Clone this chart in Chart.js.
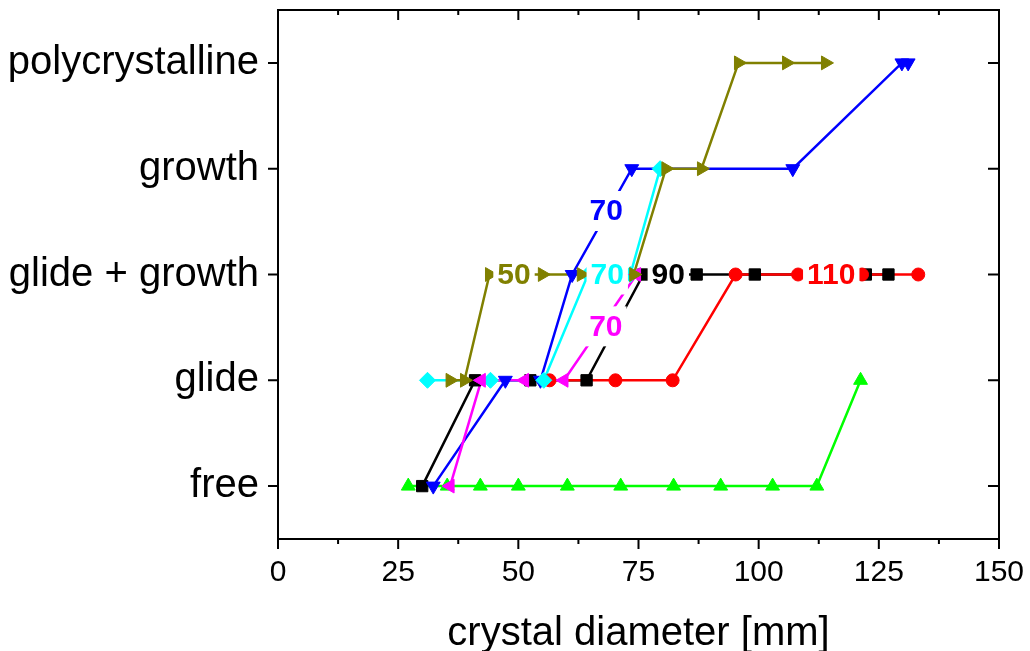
<!DOCTYPE html>
<html>
<head>
<meta charset="utf-8">
<script src="https://cdn.jsdelivr.net/npm/chart.js@4.4.0/dist/chart.umd.min.js"></script>
<style>
    html, body { margin: 0; padding: 0; background: #fff; }
</style>
</head>
<body>
<canvas id="crystalChart" width="1030" height="651"></canvas>
<script>
const FONT = '"Liberation Sans", Arial, sans-serif';

// y categories (bottom to top) and x ticks
const stateNames = ['free', 'glide', 'glide + growth', 'growth', 'polycrystalline'];
const xTickValues = [0, 25, 50, 75, 100, 125, 150];

// series: diameter [mm] and state index
const greenX = [27.1, 35.2, 42.1, 50, 60.2, 71.3, 82.3, 92.1, 102.9, 112.1, 121.2];
const greenY = [0, 0, 0, 0, 0, 0, 0, 0, 0, 0, 1];

const blackX = [30, 41, 52.5, 64.2, 76, 87.1, 99.2, 122.3, 127];
const blackY = [0, 1, 1, 1, 2, 2, 2, 2, 2];

const redX = [56.5, 70.2, 82.1, 95.2, 108.2, 121.5, 133.2];
const redY = [1, 1, 1, 2, 2, 2, 2];

const blueX = [32.3, 47.3, 54.6, 61.2, 73.6, 107.1, 129.8, 131.1];
const blueY = [0, 1, 1, 2, 3, 3, 4, 4];

const cyanX = [31.1, 44.2, 55.3, 64.5, 73.3, 79.5];
const cyanY = [1, 1, 1, 2, 2, 3];

const magentaX = [35.8, 42.3, 51.3, 59.5, 74.6];
const magentaY = [0, 1, 1, 1, 2];

const oliveX = [35.8, 38.8, 44, 55, 63.1, 74, 80.7, 88.1, 95.8, 105.8, 113.9];
const oliveY = [1, 1, 2, 2, 2, 2, 3, 3, 4, 4, 4];

// in-plot numbers
const tagText = ['50', '70', '70', '90', '70', '110'];
const tagX = [49.1, 68.3, 68.5, 81.2, 68.2, 115.1];
const tagY = [2, 2.6, 2, 2, 1.51, 2];
const tagColor = ['#808000', '#0000ff', '#00ffff', '#000000', '#ff00ff', '#ff0000'];

const toPoints = (xs, ys) => xs.map((v, i) => ({ x: v, y: ys[i] }));

// each series -> one line dataset + one marker dataset, so markers sit above all lines
const series = [
    { xs: oliveX, ys: oliveY, color: '#808000', style: 'triangle', rot: 90, r: 8 },
    { xs: magentaX, ys: magentaY, color: '#ff00ff', style: 'triangle', rot: 270, r: 8 },
    { xs: cyanX, ys: cyanY, color: '#00ffff', style: 'rectRot', rot: 0, r: 8 },
    { xs: blueX, ys: blueY, color: '#0000ff', style: 'triangle', rot: 180, r: 8 },
    { xs: redX, ys: redY, color: '#ff0000', style: 'circle', rot: 0, r: 6.5 },
    { xs: blackX, ys: blackY, color: '#000000', style: 'rect', rot: 0, r: 8 },
    { xs: greenX, ys: greenY, color: '#00ff00', style: 'triangle', rot: 0, r: 8 }
];

const markerSets = series.map(s => ({
    data: toPoints(s.xs, s.ys),
    showLine: false,
    pointStyle: s.style,
    rotation: s.rot,
    pointRadius: s.r,
    pointBackgroundColor: s.color,
    pointBorderColor: s.color,
    pointBorderWidth: 1
}));

const lineSets = series.map(s => ({
    data: toPoints(s.xs, s.ys),
    showLine: true,
    borderColor: s.color,
    borderWidth: 2.5,
    tension: 0,
    pointRadius: 0,
    fill: false
}));

const tagPlugin = {
    id: 'tags',
    afterDatasetsDraw(chart) {
        const { ctx, scales: { x, y } } = chart;
        ctx.save();
        ctx.font = 'bold 30px ' + FONT;
        ctx.textAlign = 'center';
        ctx.textBaseline = 'middle';
        tagText.forEach((t, i) => {
            const px = x.getPixelForValue(tagX[i]);
            const py = y.getPixelForValue(tagY[i]);
            const w = ctx.measureText(t).width + 8;
            ctx.fillStyle = '#fff';
            ctx.fillRect(px - w / 2, py - 20, w, 40);
            ctx.fillStyle = tagColor[i];
            ctx.fillText(t, px, py + 1);
        });
        ctx.restore();
    }
};

const framePlugin = {
    id: 'frame',
    afterDraw(chart) {
        const { ctx, chartArea: a, scales: { x, y } } = chart;
        ctx.save();
        ctx.strokeStyle = '#000';
        ctx.lineWidth = 2;
        ctx.strokeRect(a.left, a.top, a.right - a.left, a.bottom - a.top);
        ctx.beginPath();
        for (let v = 0; v <= 150; v += 12.5) {
            const px = x.getPixelForValue(v);
            const major = v % 25 === 0;
            ctx.moveTo(px, a.bottom);
            ctx.lineTo(px, a.bottom + (major ? 10 : 5));
            ctx.moveTo(px, a.top);
            ctx.lineTo(px, a.top + (major ? 10 : 5));
        }
        stateNames.forEach((n, i) => {
            const py = y.getPixelForValue(i);
            ctx.moveTo(a.left - 10, py);
            ctx.lineTo(a.left, py);
            ctx.moveTo(a.right, py);
            ctx.lineTo(a.right - 11, py);
        });
        ctx.stroke();
        ctx.restore();
    }
};

const ctx = document.getElementById('crystalChart').getContext('2d');

new Chart(ctx, {
    type: 'scatter',
    data: { datasets: [...markerSets, ...lineSets] },
    options: {
        responsive: false,
        animation: false,
        layout: { padding: { top: 10, right: 31, left: 0, bottom: 0 } },
        plugins: {
            legend: { display: false },
            tooltip: { enabled: false }
        },
        scales: {
            x: {
                type: 'linear',
                min: 0,
                max: 150,
                afterFit: s => {
                    s.height = 112;
                    s.paddingLeft = 0;
                    s.paddingRight = 0;
                },
                afterBuildTicks: s => { s.ticks = xTickValues.map(v => ({ value: v })); },
                grid: { display: false },
                border: { display: false },
                ticks: {
                    padding: 8,
                    color: '#000',
                    font: { family: FONT, size: 30 },
                    maxRotation: 0,
                    callback: v => String(v)
                },
                title: {
                    display: true,
                    text: 'crystal diameter [mm]',
                    color: '#000',
                    font: { family: FONT, size: 40, lineHeight: 1 },
                    padding: { top: 0, bottom: -3 }
                }
            },
            y: {
                type: 'linear',
                min: -0.5,
                max: 4.5,
                afterFit: s => {
                    s.width = 278;
                    s.paddingTop = 0;
                    s.paddingBottom = 0;
                },
                afterBuildTicks: s => { s.ticks = stateNames.map((n, i) => ({ value: i })); },
                grid: { display: false },
                border: { display: false },
                ticks: {
                    padding: 11,
                    color: '#000',
                    font: { family: FONT, size: 40 },
                    callback: v => stateNames[v]
                }
            }
        }
    },
    plugins: [tagPlugin, framePlugin]
});
</script>
</body>
</html>
